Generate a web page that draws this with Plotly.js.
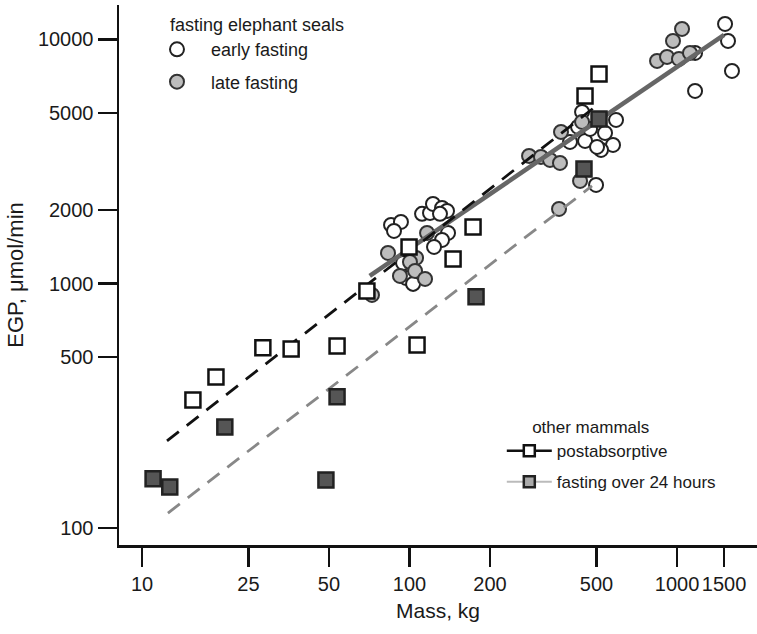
<!DOCTYPE html>
<html><head><meta charset="utf-8">
<script src="https://cdn.plot.ly/plotly-3.0.1.min.js"></script>
<style>html,body{margin:0;padding:0;background:#fff}#chart{width:757px;height:634px}</style>
</head><body><div id="chart"></div>
<script>
// early fasting elephant seals (open circles)
const earlyMass = [85.3, 92.9, 87.5, 111.4, 119.3, 122.4, 132.3, 138.1, 130.0, 139.3, 132.3, 123.5, 97.0, 103.1, 94.6,
  441.6, 591.6, 538.1, 453.1, 576.4, 519.9, 502.3, 473.1, 398.1, 498.1, 426.6,
  1512, 1551, 1605, 1168, 1168];
const earlyEGP = [1740, 1790, 1644, 1931, 1949, 2121, 2042, 1986, 1931, 1614, 1511, 1414, 1056, 998, 1216,
  5049, 4682, 4142, 3842, 3698, 3528, 3629, 4302, 3806, 2537, 4384,
  11574, 9860, 7430, 6155, 8805];
// late fasting elephant seals (grey circles)
const lateMass = [83.1, 116.3, 105.8, 92.1, 100.4, 104.9, 114.3, 72.4,
  279.8, 310.1, 335.1, 365.2, 368.4, 434.0, 362.2, 441.6,
  842.0, 917.6, 1017, 1118, 966, 1044];
const lateEGP = [1336, 1614, 1275, 1076, 1227, 1128, 1046, 899,
  3334, 3303, 3211, 3122, 4181, 2634, 2023, 4594,
  8166, 8480, 8322, 8805, 9860, 11040];
// other mammals, postabsorptive (open squares)
const postMass = [15.5, 18.9, 28.3, 36.1, 53.6, 69.3, 99.6, 106.7, 145.5, 172.8, 453, 511];
const postEGP = [334, 415, 546, 540, 556, 934, 1414, 561, 1262, 1708, 5870, 7225];
// other mammals, fasting over 24 hours (dark squares)
const fastMass = [11.0, 12.7, 20.4, 53.6, 48.7, 177.3, 449, 511];
const fastEGP = [159, 147, 259, 344, 157, 883, 2951, 4726];
// regression lines (end points)
const sealFitMass = [71, 1500];
const sealFitEGP = [1077, 10430];
const postFitMass = [12.4, 500];
const postFitEGP = [227, 5350];
const fastFitMass = [12.5, 481];
const fastFitEGP = [115, 2512];
// ticks
const xTickVals = [10, 25, 50, 100, 200, 500, 1000, 1500];
const xTickText = ['10', '25', '50', '100', '200', '500', '1000', '1500'];
const yTickVals = [100, 500, 1000, 2000, 5000, 10000];
const yTickText = ['100', '500', '1000', '2000', '5000', '10000'];

const traces = [
  {x: earlyMass, y: earlyEGP, type: 'scatter', mode: 'markers', name: 'early fasting',
   legend: 'legend', legendgroup: 'e',
   marker: {symbol: 'circle', size: 14, color: '#ffffff', line: {color: '#222', width: 2}}},
  {x: lateMass, y: lateEGP, type: 'scatter', mode: 'markers', name: 'late fasting',
   legend: 'legend', legendgroup: 'l',
   marker: {symbol: 'circle', size: 14, color: '#bdbdbd', line: {color: '#333', width: 2}}},
  {x: sealFitMass, y: sealFitEGP, type: 'scatter', mode: 'lines', showlegend: false,
   line: {color: '#666', width: 4.5}},
  {x: postFitMass, y: postFitEGP, type: 'scatter', mode: 'lines', showlegend: false,
   line: {color: '#111', width: 2.8, dash: '15px,10px'}},
  {x: fastFitMass, y: fastFitEGP, type: 'scatter', mode: 'lines', showlegend: false,
   line: {color: '#888', width: 2.8, dash: '15px,10px'}},
  {x: postMass, y: postEGP, type: 'scatter', mode: 'markers', showlegend: false,
   marker: {symbol: 'square', size: 15, color: '#ffffff', line: {color: '#111', width: 2.5}}},
  {x: fastMass, y: fastEGP, type: 'scatter', mode: 'markers', showlegend: false,
   marker: {symbol: 'square', size: 15, color: '#555', line: {color: '#222', width: 2.5}}},
  // legend entries for other mammals
  {x: [null], y: [null], type: 'scatter', mode: 'lines+markers', name: 'postabsorptive',
   legend: 'legend2', legendgroup: 'p',
   line: {color: '#111', width: 2.5},
   marker: {symbol: 'square', size: 11, color: '#fff', line: {color: '#111', width: 2.5}}},
  {x: [null], y: [null], type: 'scatter', mode: 'lines+markers', name: 'fasting over 24 hours',
   legend: 'legend2', legendgroup: 'f',
   line: {color: '#bbb', width: 2},
   marker: {symbol: 'square', size: 11, color: '#aaa', line: {color: '#222', width: 2.5}}}
];

const axisCommon = {
  type: 'log', showline: true, linewidth: 2.5, linecolor: '#111',
  ticks: 'outside', ticklen: 19, tickwidth: 2.5, tickcolor: '#111',
  showgrid: false, zeroline: false, tickfont: {size: 20, color: '#1a1a1a'}
};

const layout = {
  width: 757, height: 634,
  margin: {l: 119, r: 0, t: 5, b: 89},
  paper_bgcolor: '#fff', plot_bgcolor: '#fff',
  font: {family: 'Liberation Sans, Arial, sans-serif', color: '#1a1a1a', size: 19},
  xaxis: Object.assign({}, axisCommon, {
    range: [0.914, 3.299], tickmode: 'array', tickvals: xTickVals, ticktext: xTickText,
    title: {text: 'Mass, kg', font: {size: 21}, standoff: 10}
  }),
  yaxis: Object.assign({}, axisCommon, {
    range: [1.930, 4.141], tickmode: 'array', tickvals: yTickVals, ticktext: yTickText,
    title: {text: 'EGP, μmol/min', font: {size: 22}, standoff: 8}
  }),
  showlegend: true,
  legend: {x: 0.0376, y: 0.995, xanchor: 'left', yanchor: 'top', bgcolor: 'rgba(0,0,0,0)',
    font: {size: 18}, title: {text: '&nbsp;&nbsp;&nbsp;&nbsp;&nbsp;fasting elephant seals', font: {size: 18}},
    itemwidth: 58, tracegroupgap: 6},
  legend2: {x: 0.60, y: 0.248, xanchor: 'left', yanchor: 'top', bgcolor: 'rgba(0,0,0,0)',
    font: {size: 17}, title: {text: '&nbsp;&nbsp;&nbsp;&nbsp;&nbsp;&nbsp;other mammals', font: {size: 17}},
    itemwidth: 45, tracegroupgap: 6}
};

Plotly.newPlot('chart', traces, layout, {displayModeBar: false, staticPlot: true});
</script>
</body></html>
